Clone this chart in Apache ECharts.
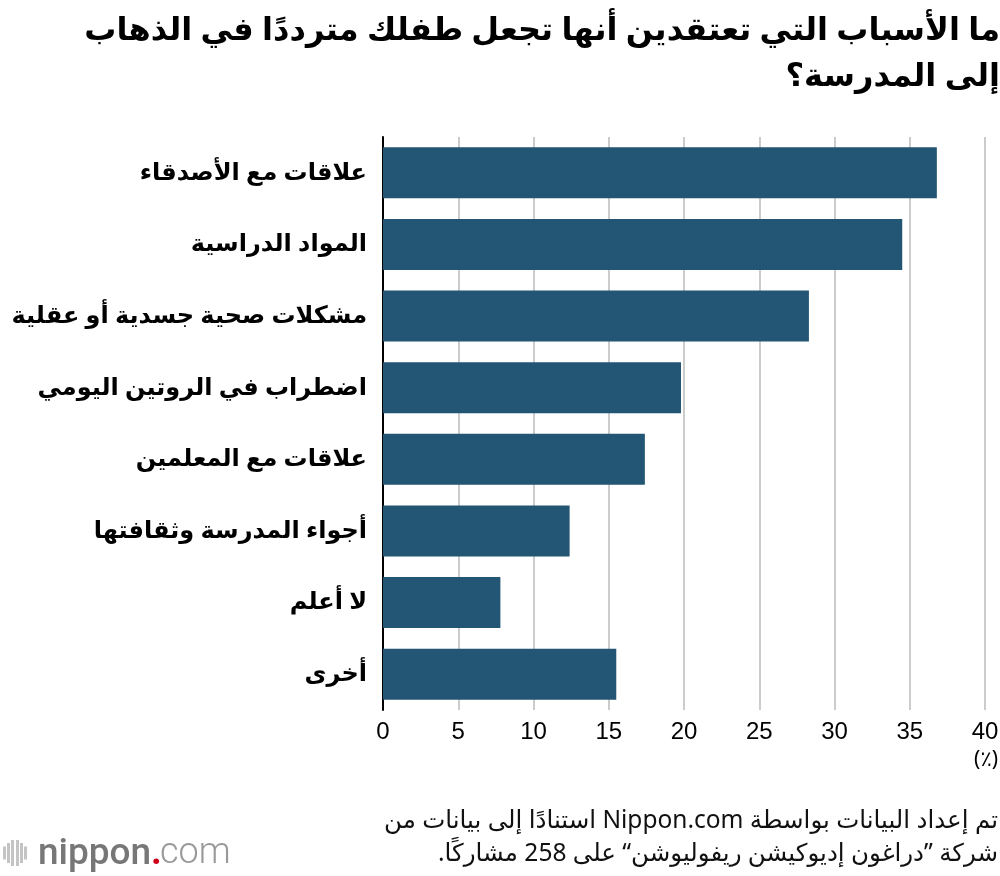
<!doctype html>
<html lang="ar">
<head>
<meta charset="UTF-8">
<title>chart</title>
<style>
  html, body { margin: 0; padding: 0; background: #fff; }
  #chart { width: 1000px; height: 876px; }
</style>
<script src="https://cdn.jsdelivr.net/npm/echarts@6/dist/echarts.min.js"></script>
</head>
<body>
<div id="chart" dir="rtl"></div>
<script>
  var categories = ['علاقات مع الأصدقاء', 'المواد الدراسية', 'مشكلات صحية جسدية أو عقلية', 'اضطراب في الروتين اليومي', 'علاقات مع المعلمين', 'أجواء المدرسة وثقافتها', 'لا أعلم', 'أخرى'];
  var values = [36.8, 34.5, 28.3, 19.8, 17.4, 12.4, 7.8, 15.5];
  var titleLines = ['ما الأسباب التي تعتقدين أنها تجعل طفلك مترددًا في الذهاب', 'إلى المدرسة؟'];
  var sourceLines = ['تم إعداد البيانات بواسطة Nippon.com استنادًا إلى بيانات من', 'شركة ”دراغون إديوكيشن ريفوليوشن“ على 258 مشاركًا.'];
  var font = '"Noto Sans", "DejaVu Sans", sans-serif';

  // logo stripes, grey bars left of the wordmark
  var logoBars = [];
  [[3, 13], [7, 20], [11, 26], [16, 26], [20, 20], [24, 13]].forEach(function (b) {
    logoBars.push({ type: 'rect', shape: { x: b[0], y: 853 - b[1] / 2, width: 3, height: b[1] }, style: { fill: '#c4c4c4' } });
  });

  var myChart = echarts.init(document.getElementById('chart'), null, { renderer: 'canvas' });
  myChart.setOption({
    backgroundColor: '#fff',
    animation: false,
    grid: { left: 383, right: 15, top: 137, bottom: 166, outerBoundsMode: 'none' },
    xAxis: {
      type: 'value', min: 0, max: 40, interval: 5,
      axisLine: { show: false }, axisTick: { show: false },
      axisLabel: { color: '#000', fontSize: 24, fontFamily: 'Liberation Sans', margin: 10 },
      splitLine: { show: true, lineStyle: { color: '#cccccc', width: 2 } }
    },
    yAxis: {
      type: 'category', inverse: true, data: categories,
      axisLine: { show: true, lineStyle: { color: '#000', width: 2 } },
      axisTick: { show: false },
      axisLabel: { color: '#000', fontSize: 24, fontWeight: 'bold', fontFamily: font, margin: 16 }
    },
    series: [{ type: 'bar', data: values, barWidth: 51, itemStyle: { color: '#235674' } }],
    graphic: logoBars.concat([
      { type: 'text', right: 0, top: 15, style: { text: titleLines[0], fontSize: 32, fontWeight: 'bold', fontFamily: font, fill: '#000' } },
      { type: 'text', right: 0, top: 61, style: { text: titleLines[1], fontSize: 32, fontWeight: 'bold', fontFamily: font, fill: '#000' } },
      { type: 'text', right: 2, top: 750, style: { text: '(٪)', fontSize: 21, fontFamily: font, fill: '#000' } },
      { type: 'text', right: 2, top: 809, style: { text: sourceLines[0], fontSize: 24.5, fontFamily: font, fill: '#111' } },
      { type: 'text', right: 2, top: 842, style: { text: sourceLines[1], fontSize: 24.5, fontFamily: font, fill: '#111' } },
      { type: 'text', left: 38, top: 836, style: { text: 'nippon', fontSize: 37, fontWeight: 500, fontFamily: 'Roboto', fill: '#777' } },
      { type: 'text', left: 151, top: 836, style: { text: '.', fontSize: 37, fontWeight: 'bold', fontFamily: 'Roboto', fill: '#d0021b' } },
      { type: 'text', left: 160, top: 836, style: { text: 'com', fontSize: 36, fontFamily: 'Roboto', fontWeight: 300, fill: '#999' } }
    ])
  });
</script>
</body>
</html>
